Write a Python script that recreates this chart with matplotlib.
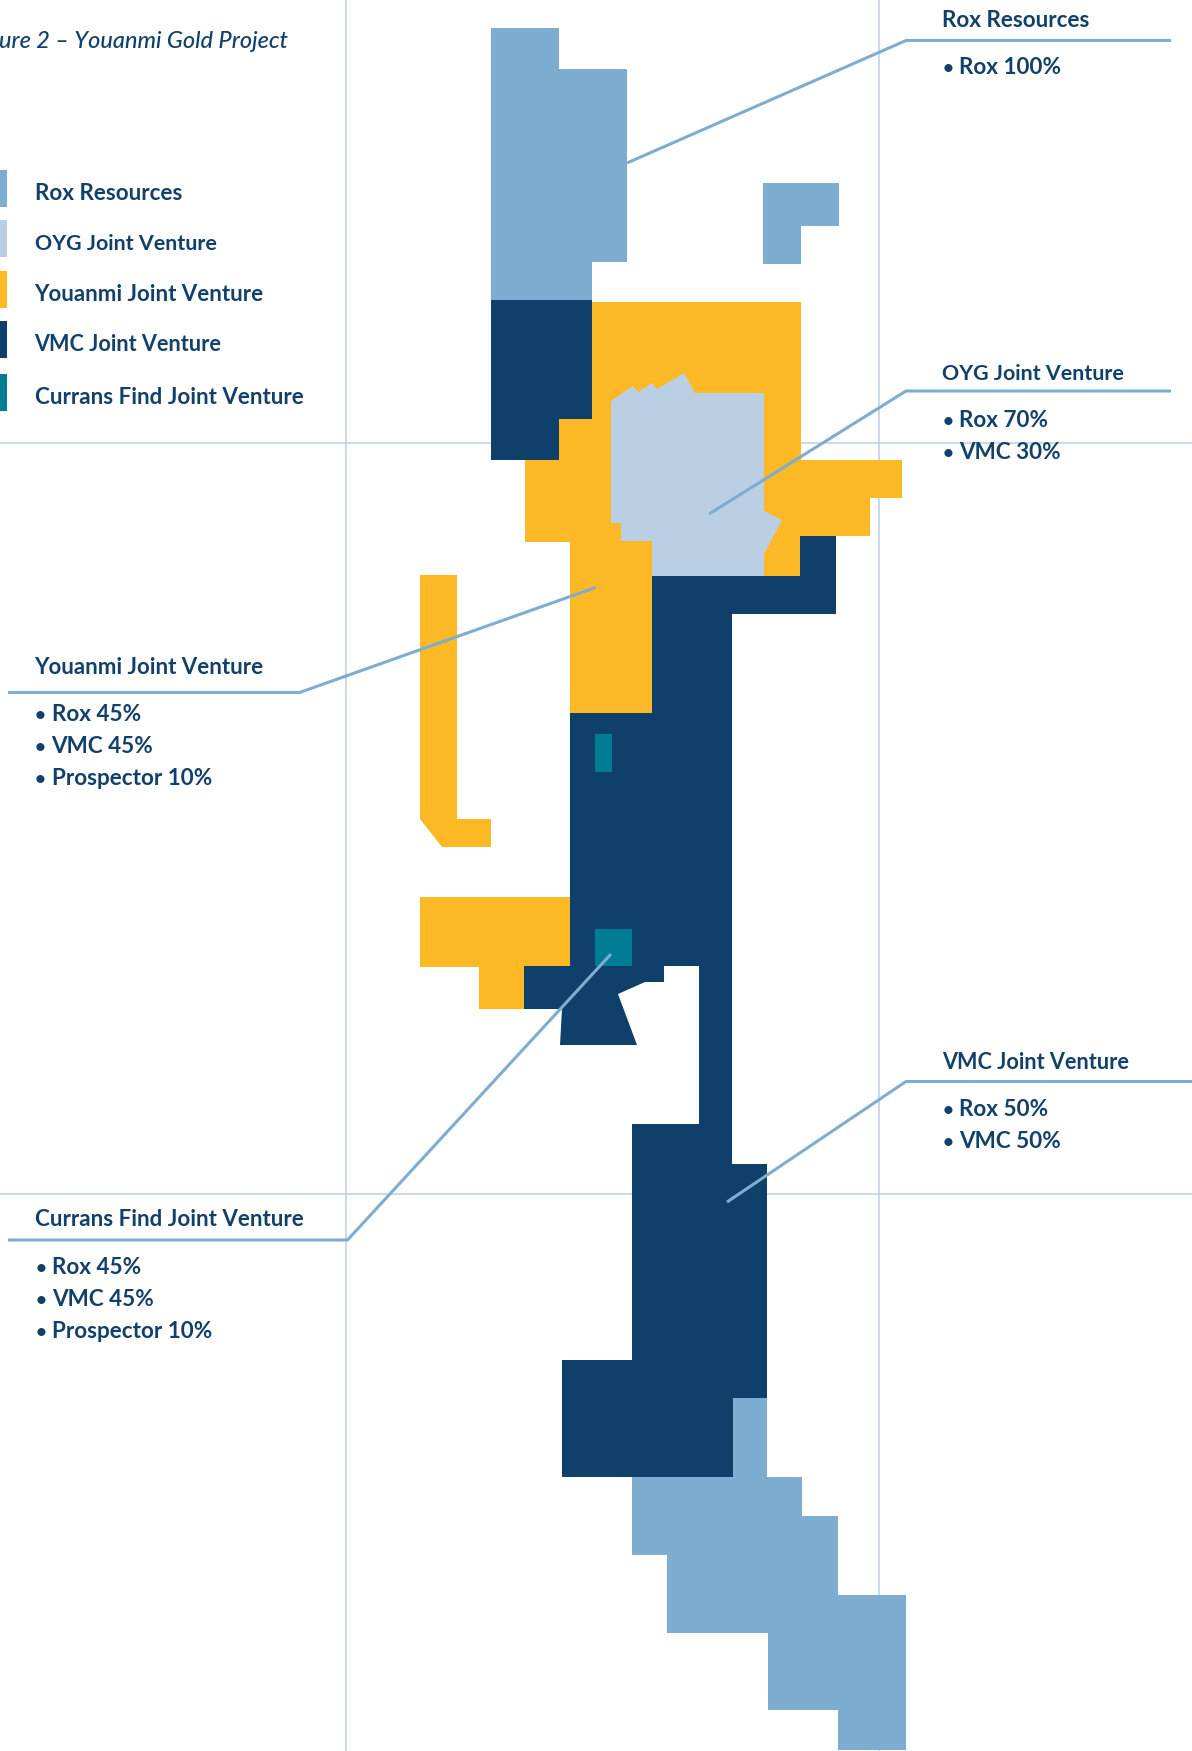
import matplotlib
matplotlib.use("Agg")
import matplotlib.pyplot as plt

# Colours
ROX = "#7eadd2"
OYG = "#bacfe4"
YOUANMI = "#fdb825"
VMC = "#0f406b"
CURRANS = "#007c94"
GRID = "#bcd0e4"
TEXT = "#12406b"
FONT = ["Lato", "DejaVu Sans"]

# Tenement outlines, in image pixels
rox_north = [(491, 28), (559, 28), (559, 69), (627, 69), (627, 262), (592, 262), (592, 300), (491, 300)]
rox_east = [(763, 183), (839, 183), (839, 226), (801, 226), (801, 264), (763, 264)]
rox_south = [(733, 1398), (767, 1398), (767, 1477), (802, 1477), (802, 1516), (838, 1516), (838, 1595),
             (906, 1595), (906, 1750), (838, 1750), (838, 1710), (768, 1710), (768, 1633), (667, 1633),
             (667, 1555), (632, 1555), (632, 1477), (733, 1477)]
youanmi_main = [(592, 302), (801, 302), (801, 460), (902, 460), (902, 498), (870, 498), (870, 536), (800, 536),
                (800, 576), (652, 576), (652, 713), (570, 713), (570, 542), (525, 542), (525, 460), (559, 460),
                (559, 419), (592, 419)]
youanmi_strip = [(420, 575), (457, 575), (457, 819), (491, 819), (491, 847), (442, 847), (420, 819)]
youanmi_south = [(420, 897), (570, 897), (570, 966), (524, 966), (524, 1009), (479, 1009), (479, 967), (420, 967)]
oyg_main = [(611, 401), (633, 386), (638, 392), (652, 383), (657, 389), (684, 373), (695, 393), (764, 393),
            (764, 511), (782, 520), (764, 554), (764, 576), (652, 576), (652, 541), (621, 541), (621, 523),
            (611, 523)]
vmc_north = [(491, 300), (592, 300), (592, 419), (559, 419), (559, 460), (491, 460)]
vmc_main = [(652, 576), (800, 576), (800, 536), (836, 536), (836, 614), (732, 614), (732, 1164), (767, 1164),
            (767, 1398), (733, 1398), (733, 1477), (562, 1477), (562, 1360), (632, 1360), (632, 1124),
            (699, 1124), (699, 966), (664, 966), (664, 982), (645, 982), (618, 994), (637, 1045), (560, 1045),
            (562, 1009), (524, 1009), (524, 966), (570, 966), (570, 713), (652, 713)]
currans_north = [(595, 734), (612, 734), (612, 772), (595, 772)]
currans_south = [(595, 929), (632, 929), (632, 966), (595, 966)]

shapes = [
    (rox_north, ROX), (rox_east, ROX), (rox_south, ROX),
    (youanmi_main, YOUANMI), (youanmi_strip, YOUANMI), (youanmi_south, YOUANMI),
    (oyg_main, OYG),
    (vmc_north, VMC), (vmc_main, VMC),
    (currans_north, CURRANS), (currans_south, CURRANS),
]

grid_x = [346, 879]
grid_y = [443.5, 1194]

legend_names = ["Rox Resources", "OYG Joint Venture", "Youanmi Joint Venture", "VMC Joint Venture",
                "Currans Find Joint Venture"]
legend_colors = [ROX, OYG, YOUANMI, VMC, CURRANS]
legend_tops = [170, 220, 271, 321, 374]
legend_baselines = [200, 250, 301, 351, 404]
legend_x = [35, 35, 34.5, 34.5, 35]

# Lato runs wide on these two names compared with the original face
title_sizes = {"OYG Joint Venture": 15.4, "VMC Joint Venture": 15.6, "Youanmi Joint Venture": 16.0,
               "Currans Find Joint Venture": 16.1}

# Callouts: title, holdings, text x, baselines, leader line
callouts = [
    ("Rox Resources", ["Rox 100%"], 942, [27, 74], [(627, 163), (906, 40.5), (1171, 40.5)]),
    ("OYG Joint Venture", ["Rox 70%", "VMC 30%"], 942, [380.5, 427, 459], [(709, 514), (906, 391), (1171, 391)]),
    ("Youanmi Joint Venture", ["Rox 45%", "VMC 45%", "Prospector 10%"], 34.5, [674, 720.5, 752.5, 784.5],
     [(595.5, 587.5), (299.5, 692.5), (8, 692.5)]),
    ("Currans Find Joint Venture", ["Rox 45%", "VMC 45%", "Prospector 10%"], 35, [1226, 1274, 1306, 1338],
     [(611, 954), (347.5, 1240), (8, 1240)]),
    ("VMC Joint Venture", ["Rox 50%", "VMC 50%"], 942, [1068.5, 1115.5, 1148], [(727, 1202), (906, 1081.5), (1192, 1081.5)]),
]

fig = plt.figure(figsize=(11.92, 17.51), dpi=100)
ax = fig.add_axes([0, 0, 1, 1])
ax.set_xlim(0, 1192)
ax.set_ylim(1751, 0)
ax.axis("off")

# Grid sits under everything
for x in grid_x:
    ax.axvline(x, color=GRID, lw=1.1, zorder=1)
for y in grid_y:
    ax.axhline(y, color=GRID, lw=1.1, zorder=1)

for outline, color in shapes:
    xs, ys = zip(*outline)
    ax.fill(xs, ys, color=color, lw=0, zorder=2)

# Legend
for name, color, top, base, tx in zip(legend_names, legend_colors, legend_tops, legend_baselines, legend_x):
    ax.fill([0, 7, 7, 0], [top, top, top + 37, top + 37], color=color, lw=0, zorder=2)
    ax.text(tx, base, name, color=TEXT, family=FONT, weight="bold", fontsize=title_sizes.get(name, 16.2),
            va="baseline", zorder=4)

# Callouts and their leader lines
for title, holdings, tx, bases, leader in callouts:
    xs, ys = zip(*leader)
    ax.plot(xs, ys, color=ROX, lw=2.2, zorder=3, solid_joinstyle="miter", solid_capstyle="butt")
    ax.text(tx, bases[0], title, color=TEXT, family=FONT, weight="bold", fontsize=title_sizes.get(title, 16.2),
            va="baseline", zorder=4)
    for item, base in zip(holdings, bases[1:]):
        ax.text(tx + 6, base, "\u2022", color=TEXT, family=FONT, weight="bold", fontsize=13.5, ha="center",
                va="baseline", zorder=4)
        ax.text(tx + 17, base, item, color=TEXT, family=FONT, weight="bold", fontsize=16.2,
                va="baseline", zorder=4)

ax.text(-1, 48, "ure 2 \u2013 Youanmi Gold Project", color=TEXT, family=FONT, style="italic", weight="medium",
        fontsize=16.9, va="baseline", zorder=4)

fig.savefig("out.png", dpi=100)
